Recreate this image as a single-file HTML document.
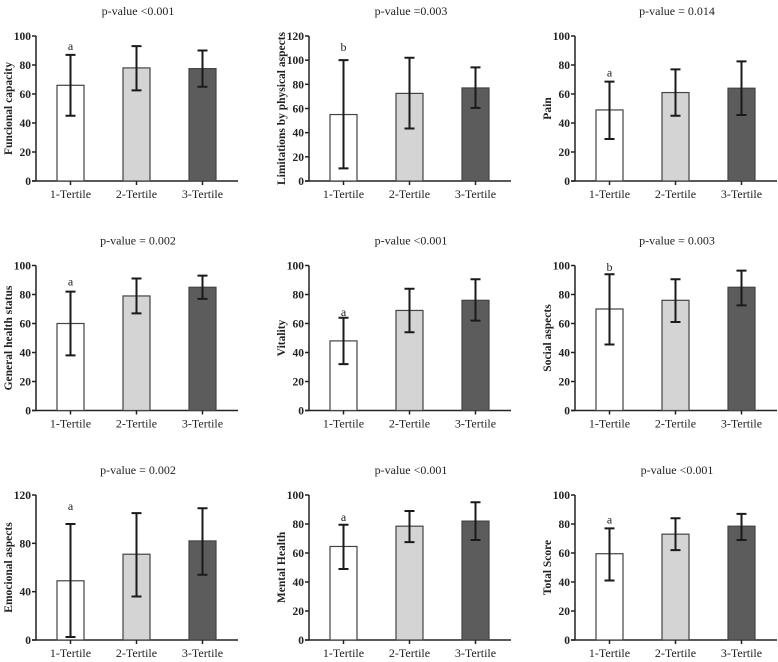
<!DOCTYPE html>
<html><head><meta charset="utf-8">
<style>
html,body{margin:0;padding:0;background:#fff;}
svg{display:block;}
text{font-family:"Liberation Serif",serif;fill:#222;}
</style></head>
<body>
<svg id="fig" width="778" height="662" viewBox="0 0 778 662" xmlns="http://www.w3.org/2000/svg"></svg>
<script>
const categories = ["1-Tertile","2-Tertile","3-Tertile"];
const panelTitles = ["Funcional capacity","Limitations by physical aspects","Pain","General health status","Vitality","Social aspects","Emocional aspects","Mental Health","Total Score"];
const pValues = ["p-value <0.001","p-value =0.003","p-value = 0.014","p-value = 0.002","p-value <0.001","p-value = 0.003","p-value = 0.002","p-value <0.001","p-value <0.001"];
const yMax = [100,120,100,100,100,100,120,100,100];
const tickStep = [20,20,20,20,20,20,40,20,20];
const means = [[66,78,77.5],[55,72.5,77],[49,61,64],[60,79,85],[48,69,76],[70,76,85],[49,71,82],[64.5,78.5,82],[59.5,73,78.5]];
const errLow = [[45,62.5,65],[10.5,43.5,60.5],[29,45,45.5],[38,67,77],[32,54,62],[45.5,61,72.5],[2.5,36,54],[49,67.5,69],[41,62,69]];
const errHigh = [[87,93,90],[100,102,94],[68.5,77,82.5],[82,91,93],[64,84,90.5],[94,90.5,96.5],[96,105,109],[79.5,89,95],[77,84,87]];
const letters = ["a","b","a","a","a","b","a","a","a"];
const letterValue = [93,111,75,89,68,99,111,85,83];

const NS="http://www.w3.org/2000/svg";
const svg=document.getElementById('fig');
const colX=[36,309,575], rowY0=[181,410.5,640], plotH=145, plotW=202;
const fills=["#ffffff","#d4d4d4","#5c5c5c"];
function mk(tag,attrs,parent){const e=document.createElementNS(NS,tag);for(const k in attrs)e.setAttribute(k,attrs[k]);parent.appendChild(e);return e;}

for(let p=0;p<9;p++){
  const ax=colX[p%3], y0=rowY0[Math.floor(p/3)];
  const yS=v=>y0-v/yMax[p]*plotH;
  const xS=i=>ax+21+i*66;
  const g=mk('g',{},svg);
  
  
  const t=mk('text',{x:ax+102,y:y0-166,'text-anchor':'middle','font-size':'12'},g);
  t.textContent=pValues[p];
  
  
  const yl=mk('text',{transform:`translate(${ax-24},${y0-plotH/2}) rotate(-90)`,'text-anchor':'middle','font-size':'11.5','font-weight':'bold'},g);
  yl.textContent=panelTitles[p];
  
  
  const ya=mk('line',{x1:ax,y1:y0,x2:ax,y2:yS(yMax[p]),stroke:'#222','stroke-width':1.5},g);
  
  
  const xa=mk('line',{x1:ax-4,y1:y0,x2:ax+plotW,y2:y0,stroke:'#222','stroke-width':1.5},g);
  
  
  for(let v=0;v<=yMax[p];v+=tickStep[p]){
    mk('line',{x1:ax-4,y1:yS(v),x2:ax,y2:yS(v),stroke:'#222','stroke-width':1.5},g);
    const tl=mk('text',{x:ax-5,y:yS(v)+4,'text-anchor':'end','font-size':'11.5','font-weight':'bold'},g);
    tl.textContent=v;
    
    
  }
  for(let i=0;i<3;i++){
    const x=xS(i), cx=x+13.5;
    const b=mk('rect',{x:x,y:yS(means[p][i]),width:27,height:y0-yS(means[p][i]),fill:fills[i],stroke:'#444','stroke-width':1.2},g);
    
    
    const e=mk('path',{d:`M${cx},${yS(errLow[p][i])}V${yS(errHigh[p][i])}M${cx-5},${yS(errLow[p][i])}H${cx+5}M${cx-5},${yS(errHigh[p][i])}H${cx+5}`,stroke:'#1a1a1a','stroke-width':2,fill:'none'},g);
    
    
    mk('line',{x1:cx,y1:y0,x2:cx,y2:y0+4,stroke:'#222','stroke-width':1.5},g);
    const cl=mk('text',{x:cx,y:y0+17,'text-anchor':'middle','font-size':'12'},g);
    cl.textContent=categories[i];
    
    
  }
  const lt=mk('text',{x:xS(0)+13.5,y:yS(letterValue[p])+4,'text-anchor':'middle','font-size':'12'},g);
  lt.textContent=letters[p];
  
  
}
</script>
</body></html>
